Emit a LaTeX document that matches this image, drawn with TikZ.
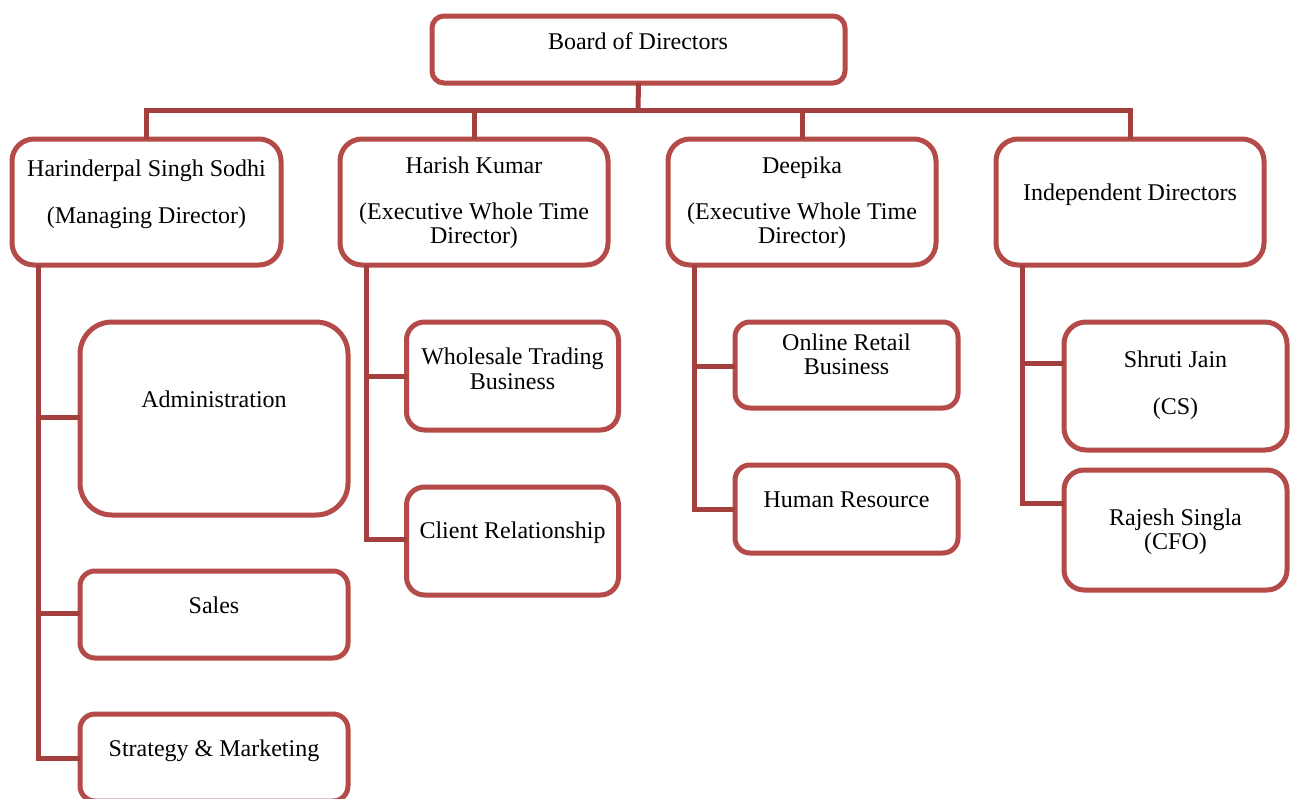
\documentclass[tikz,border=0pt]{standalone}
\usepackage{fontspec}
\setmainfont{Liberation Serif}
\usetikzlibrary{calc}
\definecolor{boxc}{RGB}{180,75,72}
\definecolor{linec}{RGB}{163,64,61}
\begin{document}
\begin{tikzpicture}[x=1pt,y=-1pt,
  box/.style={draw=boxc,line width=5pt,fill=white,rectangle,inner sep=0pt,outer sep=0pt},
  conn/.style={draw=linec,line width=5pt},
  txt/.style={anchor=base,inner sep=0pt,font=\fontsize{24}{28}\selectfont}]
\clip (0,0) rectangle (1290,798);
\fill[white] (0,0) rectangle (1290,798);
% connectors (coordinates of the junctions)
\coordinate (bus) at (638,110);
\coordinate (v1) at (38,265);
\coordinate (v2) at (366,265);
\coordinate (v3) at (694,265);
\coordinate (v4) at (1022,265);
% boxes
\node[box,minimum width=413,minimum height=67,rounded corners=12] (bod) at (638.5,49.5) {};
\node[box,minimum width=269,minimum height=126,rounded corners=22] (b1) at (146.5,202) {};
\node[box,minimum width=268,minimum height=126,rounded corners=22] (b2) at (474,202) {};
\node[box,minimum width=268,minimum height=126,rounded corners=22] (b3) at (802,202) {};
\node[box,minimum width=268,minimum height=126,rounded corners=22] (b4) at (1130,202) {};
\node[box,minimum width=268,minimum height=193,rounded corners=32] (adm) at (214,418.5) {};
\node[box,minimum width=268,minimum height=87,rounded corners=15] (sal) at (214,614.5) {};
\node[box,minimum width=268,minimum height=87,rounded corners=15] (stm) at (214,757.5) {};
\node[box,minimum width=212,minimum height=108,rounded corners=18] (whl) at (512.5,376) {};
\node[box,minimum width=223,minimum height=86,rounded corners=15] (onl) at (846.5,365) {};
\node[box,minimum width=212,minimum height=108,rounded corners=18] (cli) at (512.5,541) {};
\node[box,minimum width=223,minimum height=88,rounded corners=15] (hum) at (846.5,509) {};
\node[box,minimum width=223,minimum height=128,rounded corners=22] (shr) at (1175.5,386) {};
\node[box,minimum width=223,minimum height=120,rounded corners=20] (raj) at (1175.5,530) {};
\draw[conn] (bod.south) -- (bus);
\draw[conn] (b1.north) |- (bus) -| (b4.north);
\draw[conn] (b2.north) -- (b2.north |- bus);
\draw[conn] (b3.north) -- (b3.north |- bus);
\draw[conn] (v1) |- ($(stm.west)+(0,0.5)$);
\draw[conn] ($(adm.west)+(0,-1.5)$) -- ($(adm.west -| v1)+(0,-1.5)$);
\draw[conn] ($(sal.west)+(0,-1.5)$) -- ($(sal.west -| v1)+(0,-1.5)$);
\draw[conn] (v2) |- ($(cli.west)+(0,-2)$);
\draw[conn] (whl.west) -- (whl.west -| v2);
\draw[conn] (v3) |- (hum.west);
\draw[conn] ($(onl.west)+(0,1)$) -- ($(onl.west -| v3)+(0,1)$);
\draw[conn] (v4) |- ($(raj.west)+(0,-27)$);
\draw[conn] ($(shr.west)+(0,-23)$) -- ($(shr.west -| v4)+(0,-23)$);
% texts
\node[txt] (tbod) at (638,49) {Board of Directors};
\node[txt] (tb1a) at (146.5,176) {Harinderpal Singh Sodhi};
\node[txt] (tb1b) at (146.5,223) {(Managing Director)};
\node[txt] (tb2a) at (474,173) {Harish Kumar};
\node[txt] (tb2b) at (474,219) {(Executive Whole Time};
\node[txt] (tb2c) at (474,243) {Director)};
\node[txt] (tb3a) at (802,173) {Deepika};
\node[txt] (tb3b) at (802,219) {(Executive Whole Time};
\node[txt] (tb3c) at (802,243) {Director)};
\node[txt] (tb4) at (1130,200) {Independent Directors};
\node[txt] (tadm) at (214,407) {Administration};
\node[txt] (tsal) at (214,613) {Sales};
\node[txt] (tstm) at (214,756) {Strategy \& Marketing};
\node[txt] (twhla) at (512.5,364) {Wholesale Trading};
\node[txt] (twhlb) at (512.5,389) {Business};
\node[txt] (tcli) at (512.5,538) {Client Relationship};
\node[txt] (tonla) at (846.5,350) {Online Retail};
\node[txt] (tonlb) at (846.5,374) {Business};
\node[txt] (thum) at (846.5,507) {Human Resource};
\node[txt] (tshra) at (1175.5,367) {Shruti Jain};
\node[txt] (tshrb) at (1175.5,414) {(CS)};
\node[txt] (traja) at (1175.5,525) {Rajesh Singla};
\node[txt] (trajb) at (1175.5,549) {(CFO)};
\end{tikzpicture}
\end{document}
